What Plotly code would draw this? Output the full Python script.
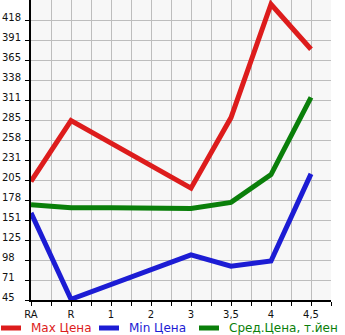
import plotly.graph_objects as go
import numpy as np

categories = ["RA", "R", "1", "2", "3", "3,5", "4", "4,5"]
max_price = [203, 284, None, None, 194, 288, 439, 379]
min_price = [161, 46, None, None, 105, 90, 97, 213]
avg_price = [172, 168, 168, 167, 167, 175, 212, 315]
y_tick_labels = ["45", "71", "98", "125", "151", "178", "205", "231", "258", "285",
                 "311", "338", "365", "391", "418"]
legend_names = ["Max Цена", "Min Цена", "Сред.Цена, т.йен"]
colors = ["#dd1c1c", "#1c1cd4", "#0a7f0a"]

W, H = 345, 335
L, R, T, B = 31, 14, 0, 35
pw, ph = W - L - R, H - T - B

x_idx = list(range(len(categories)))
y_lo, y_hi = 45.0, 418.0
step = (y_hi - y_lo) / (len(y_tick_labels) - 1)
y_tick_vals = [y_lo + i * step for i in range(len(y_tick_labels))]

fig = go.Figure()
for name, vals, col in zip(legend_names, [max_price, min_price, avg_price], colors):
    fig.add_trace(go.Scatter(x=x_idx, y=vals, mode="lines", name=name,
                             connectgaps=True, line=dict(color=col, width=5),
                             showlegend=False, cliponaxis=False))

x_tick_vals = [i * 0.5 for i in range(2 * len(categories))]
x_tick_text = [categories[i // 2] if i % 2 == 0 else "" for i in range(2 * len(categories))]

fig.update_layout(
    width=W, height=H,
    margin=dict(l=L, r=R, t=T, b=B),
    paper_bgcolor="white", plot_bgcolor="#f7f7f7",
    font=dict(family="DejaVu Sans", size=10, color="#111"),
    xaxis=dict(range=[0, len(categories) - 0.5], tickmode="array",
               tickvals=x_tick_vals, ticktext=x_tick_text,
               showgrid=True, gridcolor="#bdbdbd", gridwidth=1,
               showline=True, linecolor="black", linewidth=2,
               ticks="outside", ticklen=4, tickcolor="black", tickwidth=1,
               zeroline=False, tickfont=dict(size=10)),
    yaxis=dict(range=[y_lo, y_hi + step], tickmode="array",
               tickvals=y_tick_vals, ticktext=[""] * len(y_tick_vals),
               showgrid=True, gridcolor="#bdbdbd", gridwidth=1,
               showline=True, linecolor="black", linewidth=2,
               ticks="outside", ticklen=4, tickcolor="black", tickwidth=1,
               zeroline=False),
)

# y tick labels, left aligned at the page edge
for v, t in zip(y_tick_vals, y_tick_labels):
    fig.add_annotation(x=0, y=v, xref="paper", yref="y", text=t, showarrow=False,
                       xanchor="left", yanchor="middle", xshift=-L, yshift=3,
                       font=dict(size=10, color="#111"))

# legend drawn below the plot
leg_y = -28 / ph
leg_x = [0, 98, 198]
for px, name, col in zip(leg_x, legend_names, colors):
    fig.add_shape(type="line", xref="paper", yref="paper",
                  x0=(px + 1 - L) / pw, x1=(px + 21 - L) / pw, y0=leg_y, y1=leg_y,
                  line=dict(color=col, width=5))
    fig.add_annotation(x=(px + 29 - L) / pw, y=leg_y, xref="paper", yref="paper",
                       text=name, showarrow=False, xanchor="left", yanchor="middle",
                       font=dict(size=12, color=col))

fig.write_html("out.html")
